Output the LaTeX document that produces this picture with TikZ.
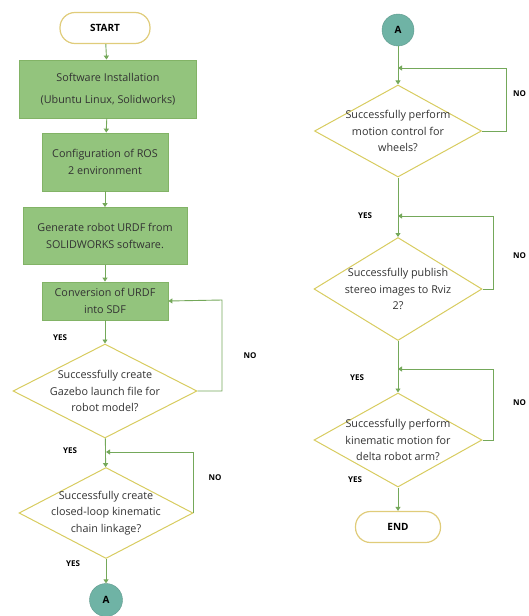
\documentclass[tikz,border=0pt]{standalone}
\usepackage{fontspec}
\setmainfont{Open Sans}
\usetikzlibrary{shapes.geometric,arrows.meta}
\definecolor{boxfill}{HTML}{93C47D}
\definecolor{boxline}{HTML}{82B366}
\definecolor{arr}{HTML}{74A85A}
\definecolor{gold}{HTML}{E0CC7A}
\definecolor{dline}{HTML}{D8CC60}
\definecolor{teal}{HTML}{6FB3A5}
\definecolor{txt}{HTML}{333333}
\tikzset{
  every node/.style={font=\fontsize{10.8}{16.5}\selectfont, text=txt},
  procbox/.style={draw=boxline, fill=boxfill, line width=0.8pt, align=center, inner sep=1pt},
  term/.style={draw=gold, fill=white, line width=1.2pt, rounded corners=15pt, minimum width=90pt, minimum height=31pt, font=\bfseries\fontsize{10}{11}\selectfont, text=black},
  dec/.style={diamond, draw=dline, fill=white, line width=1pt, inner sep=0pt},
  dtext/.style={align=center, inner sep=0pt},
  conn/.style={circle, fill=teal, draw=teal!85!black, line width=0.4pt, minimum size=33pt, inner sep=0pt, font=\bfseries\fontsize{10}{11}\selectfont, text=black},
  flow/.style={draw=arr, line width=0.9pt, -{Triangle[width=5pt,length=4pt]}},
  lbl/.style={font=\bfseries\fontsize{8}{9}\selectfont, text=black, inner sep=0pt},
}
\begin{document}
\begin{tikzpicture}[x=1pt,y=-1pt]
\useasboundingbox (0,0) rectangle (528,616);
% left column
\node[term] (start) at (105,28) {START};
\node[procbox, minimum width=177pt, minimum height=58pt] (b1) at (108,89) {Software Installation\\[6pt](Ubuntu Linux, Solidworks)};
\node[procbox, minimum width=126pt, minimum height=58pt] (b2) at (105,162) {Configuration of ROS\\2 environment};
\node[procbox, minimum width=164pt, minimum height=57pt] (b3) at (105,236) {Generate robot URDF from\\SOLIDWORKS software.};
\node[procbox, minimum width=126pt, minimum height=38pt] (b4) at (105,301) {Conversion of URDF\\into SDF};
\node[dec, minimum width=184pt, minimum height=94pt] (d1) at (105,391) {};
\node[dtext] (d1t) at (d1) {Successfully create\\Gazebo launch file for\\robot model?};
\node[dec, minimum width=174pt, minimum height=91pt] (d2) at (106,513) {};
\node[dtext] (d2t) at (d2) {Successfully create\\closed-loop kinematic\\chain linkage?};
\node[conn] (a1) at (106,600) {A};
% right column
\node[conn, minimum size=32pt] (a2) at (398,30) {A};
\node[dec, minimum width=167pt, minimum height=92pt] (d3) at (398,131) {};
\node[dtext] (d3t) at (d3) {Successfully perform\\motion control for\\wheels?};
\node[dec, minimum width=168pt, minimum height=103pt] (d4) at (398,289) {};
\node[dtext] (d4t) at (d4) {Successfully publish\\stereo images to Rviz\\2?};
\node[dec, minimum width=168pt, minimum height=94pt] (d5) at (398,440) {};
\node[dtext] (d5t) at (d5) {Successfully perform\\kinematic motion for\\delta robot arm?};
\node[term, minimum width=85pt] (end) at (398,527) {END};
% junction coordinates
\coordinate (j1) at (222,300);
\coordinate (j2) at (106,452);
\coordinate (j3) at (398,68);
\coordinate (j4) at (398,216);
\coordinate (j5) at (398,369);
% main flow
\draw[flow] (start) -- (b1);
\draw[flow] (b1) -- (b2);
\draw[flow] (b2) -- (b3);
\draw[flow] (b3) -- (b4);
\draw[flow] (b4) -- (d1);
\draw[flow] (d1) -- (d2);
\draw[flow] (d2) -- (a1);
\draw[flow] (a2) -- (d3);
\draw[flow] (d3) -- (d4);
\draw[flow] (d4) -- (d5);
\draw[flow] (d5) -- (end);
% loops
\draw[flow] (d1.east) -| (j1) -- (b4.east);
\draw[flow] (d2.east) |- (j2);
\draw[flow] (d3.east) -- (506,131) |- (j3);
\draw[flow] (d4.east) -- (493,289) |- (j4);
\draw[flow] (d5.east) -- (493,440) |- (j5);
% labels
\node[lbl] (y1) at (60,338) {YES};
\node[lbl] (n1) at (250,356) {NO};
\node[lbl] (y2) at (70,451) {YES};
\node[lbl] (n2) at (215,478) {NO};
\node[lbl] (y3) at (73,564) {YES};
\node[lbl, anchor=west] (n3) at (513,94) {NO};
\node[lbl] (y4) at (365,216) {YES};
\node[lbl, anchor=west] (n4) at (513,256) {NO};
\node[lbl] (y5) at (357,378) {YES};
\node[lbl, anchor=west] (n5) at (513,403) {NO};
\node[lbl] (y6) at (355,480) {YES};
\end{tikzpicture}
\end{document}
